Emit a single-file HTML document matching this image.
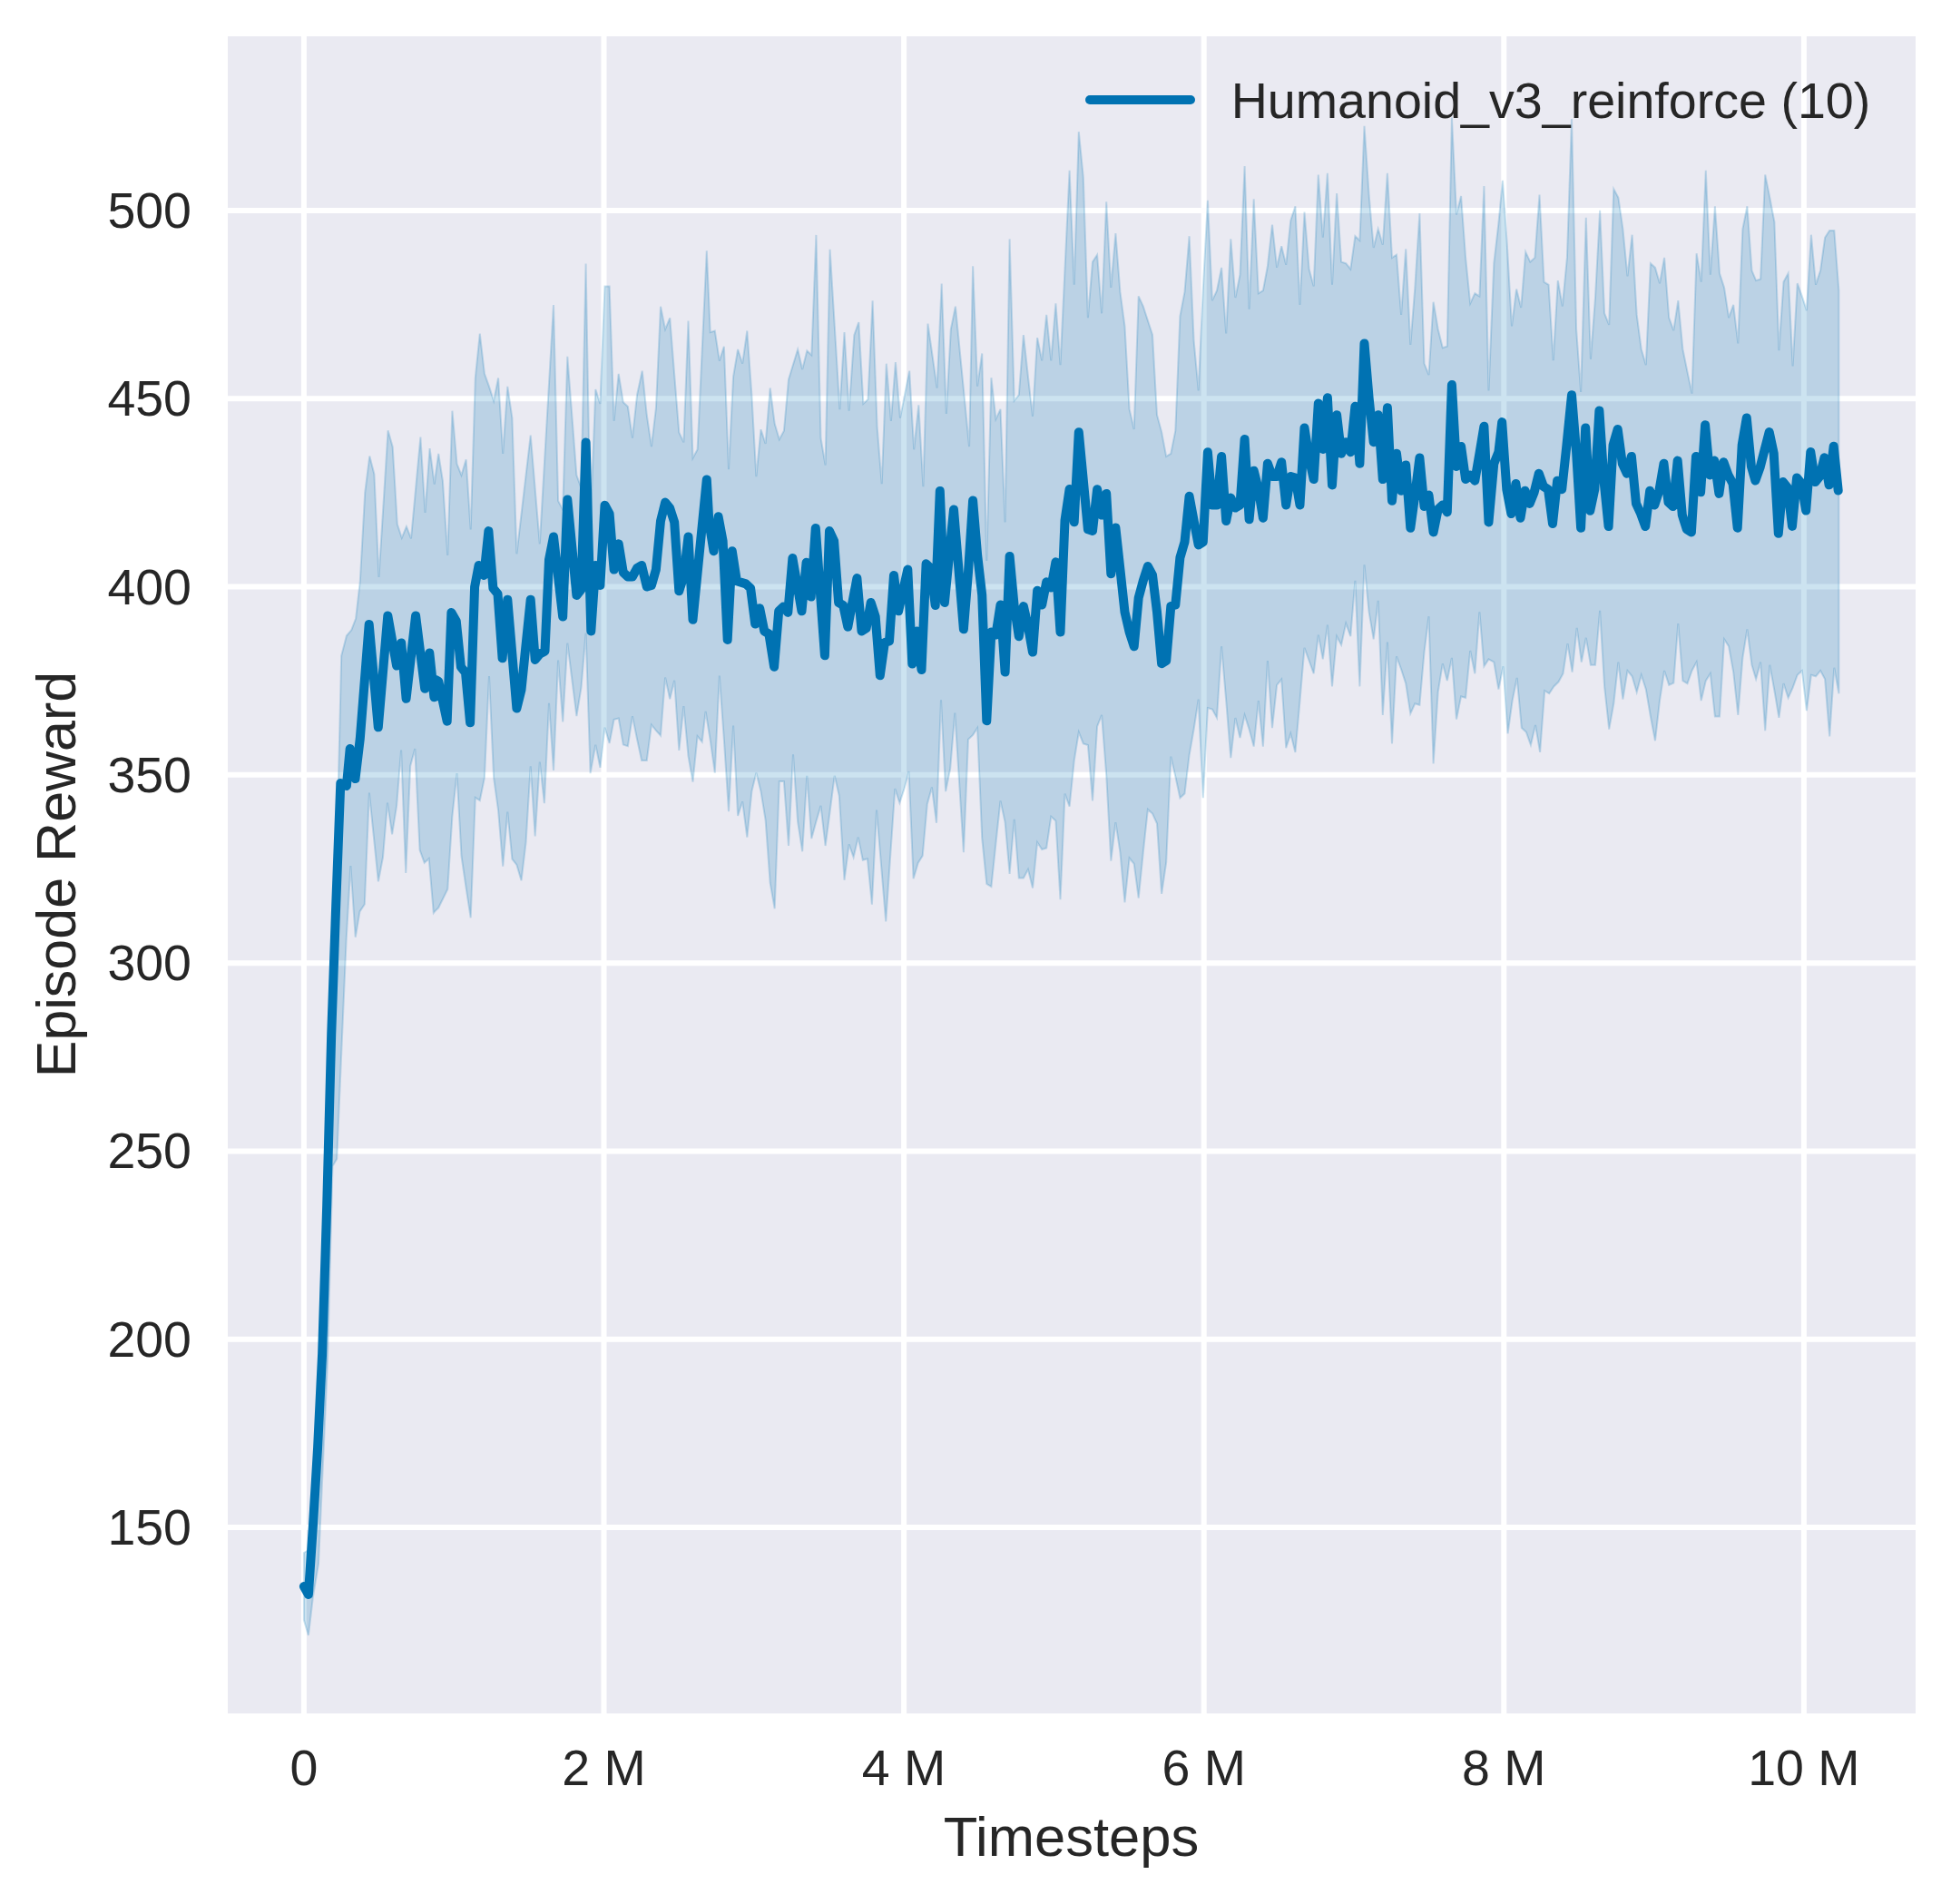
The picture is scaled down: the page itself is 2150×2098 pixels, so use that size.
<!DOCTYPE html>
<html><head><meta charset="utf-8"><style>
html,body{margin:0;padding:0;background:#fff;width:2150px;height:2098px;overflow:hidden}
svg{display:block}
text{font-family:"Liberation Sans",sans-serif;fill:#262626}
</style></head><body>
<svg width="2150" height="2098" viewBox="0 0 2150 2098">
<defs><clipPath id="c"><rect x="251" y="40" width="1860" height="1848"/></clipPath></defs>
<rect x="251" y="40" width="1860" height="1848" fill="#eaeaf2"/><line x1="334.90" y1="40" x2="334.90" y2="1888" stroke="#fff" stroke-width="6"/><line x1="665.50" y1="40" x2="665.50" y2="1888" stroke="#fff" stroke-width="6"/><line x1="996.10" y1="40" x2="996.10" y2="1888" stroke="#fff" stroke-width="6"/><line x1="1326.70" y1="40" x2="1326.70" y2="1888" stroke="#fff" stroke-width="6"/><line x1="1657.30" y1="40" x2="1657.30" y2="1888" stroke="#fff" stroke-width="6"/><line x1="1987.90" y1="40" x2="1987.90" y2="1888" stroke="#fff" stroke-width="6"/><line x1="251" y1="1682.99" x2="2111" y2="1682.99" stroke="#fff" stroke-width="6"/><line x1="251" y1="1475.71" x2="2111" y2="1475.71" stroke="#fff" stroke-width="6"/><line x1="251" y1="1268.42" x2="2111" y2="1268.42" stroke="#fff" stroke-width="6"/><line x1="251" y1="1061.14" x2="2111" y2="1061.14" stroke="#fff" stroke-width="6"/><line x1="251" y1="853.85" x2="2111" y2="853.85" stroke="#fff" stroke-width="6"/><line x1="251" y1="646.57" x2="2111" y2="646.57" stroke="#fff" stroke-width="6"/><line x1="251" y1="439.28" x2="2111" y2="439.28" stroke="#fff" stroke-width="6"/><line x1="251" y1="232.00" x2="2111" y2="232.00" stroke="#fff" stroke-width="6"/>
<g clip-path="url(#c)"><path d="M334.9,1711.0 L339.9,1708.0 L345.0,1655.0 L350.1,1565.0 L355.1,1460.0 L360.2,1295.0 L365.2,1110.0 L370.3,975.0 L376.2,722.6 L381.9,700.5 L387.3,694.2 L392.1,681.6 L396.8,640.6 L402.2,542.9 L407.3,502.6 L412.4,522.4 L417.5,635.9 L427.6,474.2 L432.7,492.5 L437.8,577.6 L442.8,592.7 L447.9,580.1 L453.0,593.3 L463.4,481.5 L468.5,565.0 L473.6,494.1 L478.7,533.5 L480.0,523.6 L483.2,500.0 L487.9,529.9 L493.3,611.9 L498.4,452.7 L503.5,511.0 L508.5,523.6 L513.6,506.3 L518.7,583.5 L523.8,416.5 L528.8,367.6 L533.9,411.8 L539.0,425.9 L544.1,441.7 L549.1,416.5 L554.2,500.0 L559.3,425.9 L564.4,460.6 L569.4,610.3 L584.7,479.5 L594.8,599.3 L610.0,336.1 L615.1,552.0 L620.2,561.5 L625.3,392.9 L635.4,523.6 L640.5,537.8 L645.6,290.4 L650.6,580.4 L656.3,429.1 L661.4,444.9 L666.5,315.6 L671.6,315.6 L676.6,463.8 L681.7,411.8 L686.8,443.3 L691.9,448.0 L696.9,482.7 L702.0,435.4 L707.7,408.6 L712.8,457.5 L717.9,492.1 L722.9,449.6 L728.0,337.7 L733.1,362.9 L738.2,350.3 L748.3,476.4 L753.4,487.4 L758.5,353.5 L763.5,504.7 L768.6,495.3 L778.8,276.2 L782.7,366.1 L787.8,364.5 L792.8,397.6 L797.9,381.8 L803.0,517.3 L808.1,414.9 L813.1,385.0 L818.2,400.7 L823.3,364.5 L828.4,435.4 L833.4,525.2 L838.5,473.2 L843.6,489.0 L848.7,427.5 L853.7,466.9 L858.8,484.2 L863.9,474.8 L869.0,418.1 L879.1,385.0 L884.2,407.0 L889.3,386.5 L894.3,391.3 L899.4,258.9 L904.5,482.7 L909.6,512.6 L914.6,274.7 L925.4,451.2 L930.5,366.1 L935.6,452.7 L941.3,369.2 L946.3,355.0 L951.4,444.9 L956.5,440.1 L961.6,331.4 L966.6,470.1 L971.7,533.1 L976.8,400.7 L981.9,463.8 L986.9,399.2 L992.0,460.6 L1002.2,408.6 L1007.2,495.3 L1012.3,446.4 L1017.4,536.2 L1022.5,356.6 L1032.6,427.5 L1037.7,312.5 L1042.8,455.9 L1047.8,362.9 L1052.9,337.7 L1068.1,492.1 L1072.1,293.3 L1077.1,425.7 L1082.2,389.5 L1087.3,618.0 L1092.4,416.2 L1097.4,461.9 L1102.5,450.9 L1107.6,575.4 L1112.6,263.4 L1117.7,441.5 L1122.8,435.2 L1127.9,369.0 L1132.9,414.7 L1138.0,458.8 L1143.1,372.1 L1148.2,397.3 L1153.2,346.9 L1158.3,397.3 L1163.4,334.3 L1168.5,402.1 L1173.5,296.5 L1178.6,187.8 L1183.7,313.8 L1188.8,145.2 L1193.8,195.6 L1198.9,350.1 L1204.0,288.6 L1209.1,280.7 L1214.1,345.3 L1219.2,222.4 L1224.3,317.0 L1229.4,257.1 L1234.4,321.7 L1239.5,359.5 L1244.6,450.9 L1249.7,473.0 L1254.7,326.4 L1259.8,337.5 L1264.9,353.2 L1270.0,369.0 L1275.0,457.2 L1280.1,476.1 L1285.2,502.9 L1290.3,499.8 L1295.3,474.6 L1300.4,348.5 L1305.5,321.7 L1310.6,260.2 L1315.6,375.3 L1320.7,430.4 L1325.8,318.6 L1330.9,220.9 L1335.9,331.2 L1341.0,320.1 L1346.1,294.9 L1351.2,367.4 L1356.3,263.4 L1361.4,328.0 L1366.5,302.8 L1371.6,183.0 L1376.6,340.6 L1381.7,219.3 L1386.8,323.3 L1391.9,320.1 L1396.9,293.3 L1402.0,247.6 L1407.1,294.9 L1412.2,271.3 L1417.2,291.8 L1422.3,242.9 L1427.4,227.2 L1432.5,335.9 L1437.5,233.5 L1442.6,296.5 L1447.7,315.4 L1452.8,192.5 L1457.8,261.8 L1462.9,190.9 L1468.0,313.8 L1473.1,213.0 L1478.1,288.6 L1483.2,290.2 L1488.3,296.5 L1493.4,260.2 L1498.4,265.0 L1503.5,138.9 L1508.6,214.5 L1513.7,272.9 L1518.7,252.4 L1523.8,269.7 L1528.9,190.9 L1534.0,283.9 L1539.0,280.7 L1544.1,346.9 L1549.2,274.4 L1554.3,380.0 L1559.3,317.0 L1564.4,235.0 L1569.5,400.5 L1574.5,413.1 L1579.6,332.7 L1584.7,362.7 L1589.8,383.2 L1594.8,381.6 L1599.9,129.5 L1605.0,236.6 L1610.1,216.1 L1615.1,283.9 L1620.2,334.3 L1625.3,323.3 L1630.4,326.4 L1635.4,205.1 L1640.5,430.4 L1646.3,290.2 L1651.4,246.1 L1655.9,198.8 L1660.9,271.3 L1666.0,359.5 L1671.1,318.6 L1676.2,339.0 L1681.2,277.6 L1686.3,288.6 L1691.4,283.9 L1696.5,214.5 L1701.5,310.7 L1706.6,313.8 L1711.7,397.3 L1716.8,309.1 L1721.8,337.5 L1726.9,283.9 L1732.0,131.0 L1737.1,362.7 L1742.1,432.0 L1747.8,239.8 L1752.9,395.8 L1758.0,328.0 L1763.1,231.9 L1768.1,345.3 L1773.2,357.9 L1778.3,208.2 L1783.4,217.7 L1788.4,252.4 L1793.5,304.4 L1798.6,258.7 L1803.7,346.9 L1808.7,384.7 L1813.8,402.1 L1818.9,290.2 L1824.0,294.9 L1829.0,312.2 L1834.1,283.9 L1839.2,350.1 L1844.3,364.2 L1849.3,331.2 L1854.4,384.7 L1859.5,409.9 L1864.5,433.6 L1869.6,279.2 L1874.7,310.7 L1879.8,187.8 L1884.8,302.8 L1889.9,227.2 L1895.0,301.2 L1900.1,317.0 L1905.1,350.1 L1910.2,335.9 L1915.3,378.4 L1920.4,252.4 L1925.4,227.2 L1930.5,298.1 L1935.1,309.1 L1940.1,307.5 L1945.2,192.5 L1950.3,217.7 L1955.4,244.5 L1960.4,386.2 L1965.5,310.6 L1970.6,301.2 L1975.6,403.5 L1980.7,312.2 L1985.8,326.4 L1990.9,342.1 L1995.9,258.7 L2001.0,313.8 L2006.1,298.0 L2011.1,261.8 L2016.2,253.9 L2021.3,253.9 L2026.4,320.1 L2026.4,764.2 L2021.3,735.8 L2016.2,811.4 L2011.1,748.4 L2006.1,739.0 L2001.0,745.3 L1995.9,743.7 L1990.9,783.1 L1985.8,739.0 L1980.7,743.7 L1975.6,757.9 L1970.6,768.9 L1965.5,753.1 L1960.4,790.9 L1955.4,761.0 L1950.3,732.7 L1945.2,805.1 L1940.1,729.5 L1935.1,748.4 L1930.5,732.7 L1925.4,693.3 L1920.4,724.9 L1915.3,787.9 L1910.2,740.6 L1905.1,712.2 L1900.1,704.4 L1895.0,789.5 L1889.9,789.5 L1884.8,742.2 L1879.8,750.1 L1874.7,772.1 L1869.6,729.6 L1864.5,739.0 L1859.5,753.2 L1854.4,750.1 L1849.3,687.0 L1844.3,752.6 L1839.2,754.8 L1834.1,739.0 L1829.0,772.1 L1824.0,816.2 L1818.9,789.5 L1813.8,759.5 L1808.7,743.8 L1803.7,762.7 L1798.6,745.3 L1793.5,739.0 L1788.4,770.6 L1783.4,729.6 L1778.3,775.3 L1773.2,803.6 L1768.1,756.4 L1763.1,672.9 L1758.0,732.7 L1752.9,732.7 L1747.8,702.8 L1742.8,729.6 L1737.7,691.8 L1732.6,740.6 L1727.5,709.1 L1722.5,742.2 L1717.4,751.6 L1712.3,756.4 L1707.2,764.2 L1702.2,761.1 L1697.1,828.9 L1692.0,798.9 L1686.9,821.0 L1681.9,806.8 L1676.8,802.1 L1671.7,746.9 L1666.6,772.1 L1661.6,808.4 L1656.5,734.3 L1651.4,759.5 L1646.3,729.6 L1640.5,726.4 L1635.4,734.3 L1630.4,674.4 L1625.3,742.2 L1620.2,717.0 L1615.1,769.0 L1610.1,767.4 L1605.0,792.6 L1599.9,724.9 L1594.8,750.1 L1589.8,731.2 L1584.7,762.7 L1579.6,841.5 L1574.5,679.2 L1569.5,718.6 L1564.4,776.9 L1559.3,775.3 L1554.3,786.3 L1549.2,753.2 L1544.1,737.5 L1539.0,723.3 L1534.0,819.4 L1528.9,707.5 L1523.8,787.9 L1518.7,661.8 L1513.7,704.4 L1508.6,674.4 L1503.5,622.4 L1498.4,756.4 L1493.4,639.8 L1488.3,701.2 L1483.2,687.0 L1478.1,710.7 L1473.1,701.2 L1468.0,756.4 L1462.9,688.6 L1457.8,726.4 L1452.8,699.6 L1447.7,742.2 L1442.6,728.0 L1437.5,713.8 L1432.5,772.1 L1427.4,828.9 L1422.3,808.4 L1417.2,824.1 L1412.2,748.5 L1407.1,754.8 L1402.0,802.1 L1396.9,728.0 L1391.9,822.6 L1386.8,772.1 L1381.7,822.6 L1376.6,803.6 L1371.6,787.9 L1366.5,813.1 L1361.4,791.0 L1356.3,835.2 L1351.2,772.1 L1346.1,712.2 L1341.0,791.0 L1335.9,781.6 L1330.9,780.0 L1325.8,879.3 L1320.7,770.6 L1315.6,803.6 L1310.6,832.0 L1305.5,874.6 L1300.4,879.3 L1295.3,855.6 L1290.3,833.6 L1285.2,950.2 L1280.1,984.9 L1275.0,907.6 L1270.0,896.6 L1264.9,891.9 L1259.8,939.2 L1254.7,989.6 L1249.7,951.8 L1244.6,945.5 L1239.5,994.3 L1234.4,939.2 L1229.4,906.1 L1224.3,948.6 L1219.2,854.1 L1214.1,787.9 L1209.1,800.5 L1204.0,882.4 L1198.9,821.0 L1193.8,819.4 L1188.8,806.8 L1183.7,838.3 L1178.6,888.7 L1173.5,874.6 L1168.5,991.2 L1163.4,904.5 L1158.3,899.8 L1153.2,934.4 L1148.2,936.0 L1143.1,928.1 L1138.0,978.6 L1132.9,958.1 L1127.9,967.5 L1122.8,967.5 L1117.7,902.9 L1112.6,962.8 L1107.6,906.1 L1102.5,882.4 L1097.4,929.7 L1092.4,977.0 L1087.3,973.8 L1082.2,923.4 L1077.1,802.1 L1072.1,809.9 L1067.0,814.7 L1061.9,939.2 L1052.3,785.5 L1047.2,846.9 L1042.1,872.1 L1037.0,771.3 L1032.0,906.8 L1026.9,867.4 L1021.8,886.3 L1016.7,943.0 L1011.7,950.9 L1006.6,968.3 L1001.5,850.1 L996.5,869.0 L991.4,884.7 L986.3,869.0 L976.2,1015.5 L966.0,892.6 L960.9,996.6 L955.9,946.2 L950.8,947.8 L945.7,922.6 L940.6,944.6 L935.6,930.4 L930.5,969.8 L924.8,876.9 L919.7,854.8 L914.6,894.2 L909.6,932.0 L904.5,887.9 L899.4,905.2 L894.3,924.1 L889.3,854.8 L884.2,938.3 L879.1,905.2 L874.0,831.2 L869.0,932.0 L863.9,861.1 L858.8,861.1 L853.7,1001.3 L848.7,973.0 L843.6,903.6 L838.5,872.1 L833.4,851.6 L828.4,872.1 L823.3,922.6 L818.2,883.2 L813.1,898.9 L808.1,799.6 L803.0,894.2 L797.9,815.4 L792.8,744.5 L787.8,851.6 L782.7,815.4 L777.6,783.9 L773.7,817.5 L768.6,811.2 L763.5,861.6 L758.5,833.2 L753.4,778.1 L748.3,826.9 L743.2,749.7 L738.2,770.2 L733.1,746.5 L728.0,810.5 L722.9,804.9 L717.9,798.6 L712.8,837.9 L707.1,837.9 L702.0,814.3 L696.9,789.1 L691.9,822.2 L686.8,820.6 L681.7,791.6 L676.6,792.9 L671.6,819.0 L666.5,801.7 L661.4,845.8 L656.3,820.6 L650.6,852.1 L645.6,697.7 L640.5,757.6 L635.4,789.1 L625.3,708.7 L620.2,795.4 L615.1,727.6 L610.0,849.0 L605.0,774.9 L599.9,885.2 L594.8,839.5 L589.7,921.5 L584.7,844.2 L579.6,927.8 L574.5,970.3 L569.4,953.0 L564.4,946.7 L559.3,894.7 L554.2,954.6 L549.1,893.1 L544.1,856.9 L539.0,745.0 L533.9,856.9 L528.8,882.1 L523.8,878.9 L518.7,1011.3 L513.6,978.2 L508.5,943.5 L503.5,852.1 L498.4,899.4 L493.3,979.8 L487.9,990.8 L483.2,1000.3 L480.0,1003.4 L477.8,1006.0 L472.7,946.1 L467.7,950.8 L462.6,936.7 L457.3,825.0 L452.2,843.9 L447.2,961.9 L442.1,826.5 L437.1,887.8 L432.1,919.3 L427.0,884.7 L422.0,944.5 L416.9,971.3 L406.9,873.6 L401.8,996.5 L396.5,1004.4 L391.7,1032.8 L386.4,954.0 L381.6,1036.0 L371.2,1277.0 L366.5,1285.0 L361.0,1500.0 L351.0,1723.0 L345.0,1759.0 L339.9,1802.0 L334.9,1785.0Z" fill="#0072b2" fill-opacity="0.2" stroke="#0072b2" stroke-opacity="0.2" stroke-width="2" stroke-linejoin="miter"/><path d="M334.9,1748.0 L339.9,1757.0 L345.0,1680.0 L350.1,1595.0 L355.1,1492.0 L360.2,1328.0 L365.2,1140.0 L370.3,995.0 L375.3,863.0 L381.9,866.0 L385.7,825.0 L391.5,858.1 L396.8,813.9 L406.7,687.9 L416.8,801.3 L427.3,678.4 L437.1,733.6 L442.2,708.4 L447.6,769.8 L458.1,678.4 L468.2,758.8 L473.3,719.4 L478.4,768.3 L480.0,749.0 L483.2,750.6 L492.7,794.7 L497.4,674.9 L502.8,684.4 L507.9,734.8 L513.0,741.1 L518.1,796.3 L523.1,646.6 L527.6,622.9 L533.3,633.9 L538.4,585.1 L543.4,648.1 L548.5,654.4 L553.6,725.3 L559.3,660.7 L569.4,780.5 L574.5,760.0 L584.7,660.7 L589.7,726.9 L594.8,720.6 L600.5,717.5 L605.0,616.6 L610.0,591.4 L620.2,679.6 L625.3,550.4 L635.4,656.0 L640.5,649.7 L645.6,487.4 L651.3,695.4 L656.3,622.9 L661.4,645.0 L666.5,556.7 L671.6,566.2 L676.6,627.6 L681.7,599.3 L686.8,630.8 L691.9,635.5 L696.9,635.5 L702.0,626.1 L707.1,622.9 L712.8,646.6 L717.9,645.0 L722.9,627.6 L728.0,574.1 L733.1,553.6 L738.2,559.9 L743.2,575.6 L748.3,651.3 L753.4,635.5 L758.5,591.4 L763.5,682.8 L778.8,528.4 L781.4,575.6 L786.5,607.2 L791.6,569.3 L796.6,596.1 L801.7,704.9 L806.8,607.2 L811.9,640.3 L822.0,643.4 L827.1,648.1 L832.2,687.5 L837.2,670.2 L842.3,695.4 L847.4,698.6 L853.1,734.8 L858.2,673.3 L863.2,668.6 L868.3,674.9 L873.4,615.0 L883.5,673.3 L888.6,619.8 L893.7,657.6 L898.8,581.9 L908.9,722.2 L914.0,585.1 L919.1,596.1 L924.1,663.9 L929.2,667.0 L934.3,690.7 L944.4,637.1 L949.5,695.4 L954.6,692.3 L959.7,663.9 L964.7,679.6 L969.8,744.3 L974.9,708.0 L980.0,706.4 L985.0,633.9 L990.1,673.3 L1000.3,627.6 L1005.3,731.6 L1010.4,695.4 L1015.5,738.0 L1020.6,621.3 L1025.6,626.1 L1030.7,667.0 L1035.8,541.0 L1040.9,663.9 L1051.0,561.5 L1061.9,693.3 L1067.0,630.3 L1072.1,551.5 L1077.1,611.4 L1082.2,655.5 L1087.3,794.2 L1092.4,696.5 L1097.4,699.6 L1102.5,666.5 L1107.6,740.6 L1112.6,613.0 L1117.7,668.1 L1122.8,701.2 L1127.9,668.1 L1132.9,690.2 L1138.0,718.6 L1143.1,650.8 L1148.2,666.5 L1153.2,641.3 L1158.3,647.6 L1163.4,619.3 L1168.5,696.5 L1173.5,573.6 L1178.6,538.9 L1183.7,575.2 L1188.8,476.2 L1198.9,583.3 L1204.0,584.9 L1209.1,539.2 L1214.1,567.6 L1219.2,544.0 L1224.3,632.2 L1229.4,581.5 L1234.4,627.2 L1239.5,674.4 L1244.6,696.5 L1249.7,712.2 L1254.7,658.7 L1259.8,639.8 L1264.9,624.0 L1270.0,633.5 L1275.0,674.4 L1280.1,731.2 L1285.2,728.0 L1290.3,668.1 L1295.3,666.5 L1300.4,614.5 L1305.5,597.2 L1310.6,546.8 L1315.6,573.6 L1320.7,600.4 L1325.8,597.2 L1330.9,498.3 L1335.9,556.6 L1341.0,556.6 L1346.1,503.0 L1351.2,573.9 L1356.3,548.6 L1361.4,559.6 L1366.5,556.5 L1371.6,484.0 L1376.6,572.3 L1381.7,518.7 L1386.8,539.2 L1391.9,570.7 L1396.9,510.8 L1402.0,525.0 L1407.1,525.0 L1412.2,509.2 L1417.2,556.5 L1422.3,525.0 L1427.4,526.6 L1432.5,556.5 L1437.5,471.4 L1442.6,504.5 L1447.7,528.1 L1452.8,444.6 L1457.8,495.0 L1462.9,438.3 L1468.0,534.4 L1473.1,457.2 L1478.1,499.8 L1483.2,487.2 L1488.3,498.2 L1493.4,447.8 L1498.4,510.8 L1503.5,378.4 L1508.6,438.3 L1513.7,487.2 L1518.7,457.2 L1523.8,528.1 L1528.9,449.3 L1534.0,551.8 L1539.0,499.8 L1544.1,540.7 L1549.2,512.4 L1554.3,581.7 L1559.3,545.5 L1564.4,504.5 L1569.5,558.1 L1574.5,545.5 L1579.6,586.4 L1584.7,561.2 L1589.8,556.5 L1594.8,564.4 L1599.9,424.1 L1605.0,513.9 L1610.1,491.9 L1615.1,528.1 L1620.2,523.4 L1625.3,529.7 L1630.4,499.8 L1635.4,469.8 L1640.5,575.4 L1646.3,510.8 L1651.4,498.2 L1655.2,465.1 L1660.3,539.2 L1665.4,566.0 L1670.4,532.9 L1675.5,570.7 L1680.6,540.7 L1685.7,554.9 L1690.7,542.3 L1695.8,521.8 L1700.9,536.0 L1706.0,539.2 L1711.0,577.0 L1716.1,529.7 L1721.2,539.2 L1726.3,491.9 L1732.0,435.2 L1737.1,498.2 L1742.1,581.7 L1747.2,471.4 L1752.3,562.8 L1757.3,539.2 L1762.4,452.5 L1767.5,529.7 L1772.6,580.1 L1777.6,490.3 L1782.7,473.0 L1787.8,510.8 L1792.9,521.8 L1797.9,502.9 L1803.0,554.9 L1808.1,566.0 L1813.2,580.1 L1818.2,540.7 L1823.3,556.5 L1828.4,540.7 L1833.5,510.8 L1838.5,553.3 L1843.6,558.1 L1848.7,507.6 L1853.8,567.5 L1858.8,583.3 L1863.9,586.4 L1869.0,502.9 L1874.1,542.3 L1879.1,468.3 L1884.2,523.4 L1889.3,507.6 L1894.4,543.9 L1899.4,509.2 L1904.5,523.4 L1909.6,532.9 L1914.7,581.7 L1919.7,490.3 L1924.8,460.4 L1929.9,513.9 L1934.4,529.5 L1939.5,515.4 L1949.7,476.0 L1954.7,499.6 L1959.8,587.8 L1964.9,531.1 L1969.9,537.4 L1975.0,579.9 L1980.1,526.4 L1985.2,532.7 L1990.2,562.6 L1995.3,498.0 L2000.4,531.1 L2005.4,524.8 L2010.5,504.3 L2015.6,534.3 L2020.7,491.7 L2025.7,540.6" fill="none" stroke="#0072b2" stroke-width="10" stroke-linejoin="round" stroke-linecap="round"/><line x1="1201" y1="110" x2="1312" y2="110" stroke="#0072b2" stroke-width="10" stroke-linecap="round"/></g>
<text x="334.9" y="1966.5" text-anchor="middle" font-size="55.5">0</text><text x="665.5" y="1966.5" text-anchor="middle" font-size="55.5">2 M</text><text x="996.1" y="1966.5" text-anchor="middle" font-size="55.5">4 M</text><text x="1326.7" y="1966.5" text-anchor="middle" font-size="55.5">6 M</text><text x="1657.3" y="1966.5" text-anchor="middle" font-size="55.5">8 M</text><text x="1987.9" y="1966.5" text-anchor="middle" font-size="55.5">10 M</text><text x="211" y="1702.0" text-anchor="end" font-size="55.5">150</text><text x="211" y="1494.7" text-anchor="end" font-size="55.5">200</text><text x="211" y="1287.4" text-anchor="end" font-size="55.5">250</text><text x="211" y="1080.1" text-anchor="end" font-size="55.5">300</text><text x="211" y="872.9" text-anchor="end" font-size="55.5">350</text><text x="211" y="665.6" text-anchor="end" font-size="55.5">400</text><text x="211" y="458.3" text-anchor="end" font-size="55.5">450</text><text x="211" y="251.0" text-anchor="end" font-size="55.5">500</text><text x="1180.5" y="2044.8" text-anchor="middle" font-size="61.5">Timesteps</text><text transform="translate(83,963.5) rotate(-90)" x="0" y="0" text-anchor="middle" font-size="61">Episode Reward</text><text x="1356.7" y="130" font-size="55.6">Humanoid_v3_reinforce (10)</text>
</svg></body></html>
